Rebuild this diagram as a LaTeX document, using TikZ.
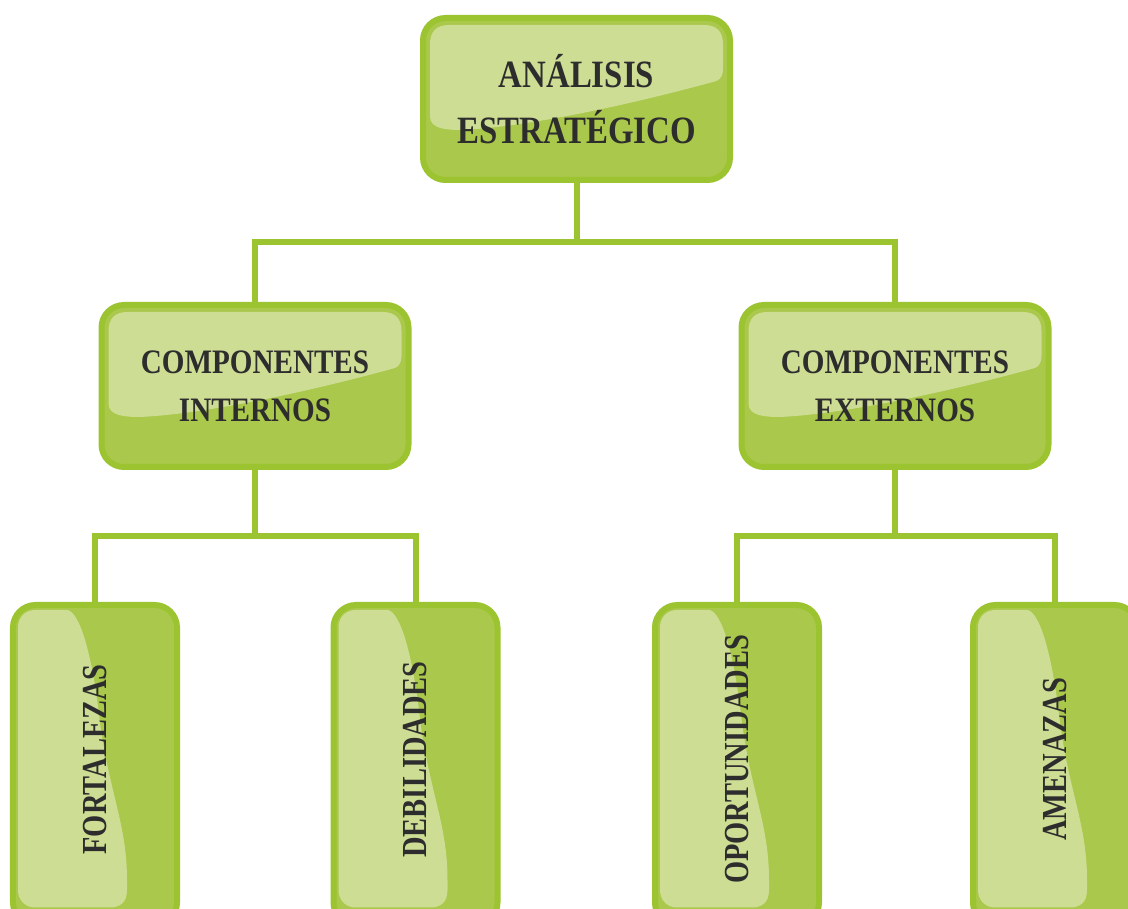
\documentclass[tikz,border=0pt]{standalone}
\usepackage{fontspec}
\usetikzlibrary{calc,backgrounds}
\newfontfamily\boxfont{Liberation Serif}[FakeStretch=0.85]
\newfontfamily\tallfont{Liberation Serif}[FakeStretch=0.81]
\definecolor{rim}{RGB}{156,195,48}
\definecolor{leaf}{RGB}{170,200,75}
\definecolor{shine}{RGB}{205,221,148}
\definecolor{ink}{RGB}{45,45,45}

\begin{document}
\begin{tikzpicture}[line width=0.12cm,
  wide box/.style={draw=rim,rounded corners=0.45cm,minimum width=6.14cm,minimum height=3.24cm,
    inner sep=0pt,outer sep=0pt,align=center,text=ink},
  tall box/.style={draw=rim,rounded corners=0.45cm,minimum width=3.28cm,minimum height=6.4cm,
    inner sep=0pt,outer sep=0pt,text=ink,font=\tallfont\bfseries\fontsize{20}{24}\selectfont},
  tree/.style={to path={(\tikztostart.south) |- ($(\tikztostart.south)!0.5!(\tikztotarget.north)$) -| (\tikztotarget.north)}}]
  \useasboundingbox (0,0) rectangle (22.56,18.18);
  \clip (0,0) rectangle (22.56,18.18);

  \node[wide box,font=\boxfont\bfseries\fontsize{22}{32.3}\selectfont] (top) at (11.53,16.2) {ANÁLISIS\\ESTRATÉGICO};
  \node[wide box,font=\boxfont\bfseries\fontsize{19.5}{27.2}\selectfont] (int) at (5.10,10.46) {COMPONENTES\\INTERNOS};
  \node[wide box,font=\boxfont\bfseries\fontsize{19.5}{27.2}\selectfont] (ext) at (17.90,10.46) {COMPONENTES\\EXTERNOS};
  \node[tall box] (fort) at (1.90,2.88) {\rotatebox{90}{\hspace{0.22cm}FORTALEZAS}};
  \node[tall box] (deb) at (8.31,2.88) {\rotatebox{90}{\hspace{0.22cm}DEBILIDADES}};
  \node[tall box] (opor) at (14.74,2.88) {\rotatebox{90}{\hspace{0.22cm}OPORTUNIDADES}};
  \node[tall box] (amen) at (21.10,2.88) {\rotatebox{90}{\hspace{0.22cm}AMENAZAS}};

  % base colour and gloss under the frames
  \begin{scope}[on background layer]
    \foreach \n in {top,int,ext}{
      \fill[leaf,rounded corners=0.45cm] (\n.north west) rectangle (\n.south east);
      \fill[shine,shift={(\n.center)}] (-2.93,1.1) -- (-2.93,-0.35) .. controls (-2.93,-0.6) and (-2.6,-0.62) .. (-2.3,-0.62)
        .. controls (-0.8,-0.55) and (1.5,0.0) .. (2.8,0.36) .. controls (2.9,0.4) and (2.93,0.5) .. (2.93,0.6)
        -- (2.93,1.1) .. controls (2.93,1.35) and (2.8,1.48) .. (2.55,1.48) -- (-2.55,1.48) .. controls (-2.8,1.48) and (-2.93,1.35) .. (-2.93,1.1);
    }
    \foreach \n in {fort,deb,opor,amen}{
      \fill[leaf,rounded corners=0.45cm] (\n.north west) rectangle (\n.south east);
      \fill[shine,shift={(\n.center)}] (-1.54,2.75) .. controls (-1.54,2.95) and (-1.4,3.1) .. (-1.2,3.1) -- (-0.55,3.1)
        .. controls (-0.3,3.05) and (-0.05,2.2) .. (0.1,0.84) .. controls (0.3,-0.6) and (0.64,-1.2) .. (0.64,-2.3)
        -- (0.64,-2.5) .. controls (0.64,-2.75) and (0.5,-2.85) .. (0.3,-2.85) -- (-1.2,-2.85)
        .. controls (-1.4,-2.85) and (-1.54,-2.7) .. (-1.54,-2.5) -- cycle;
    }
  \end{scope}

\path[draw=rim,tree]
  (top) edge (int)
  (top) edge (ext)
  (int) edge (fort)
  (int) edge (deb)
  (ext) edge (opor)
  (ext) edge (amen)
;
\end{tikzpicture}
\end{document}
